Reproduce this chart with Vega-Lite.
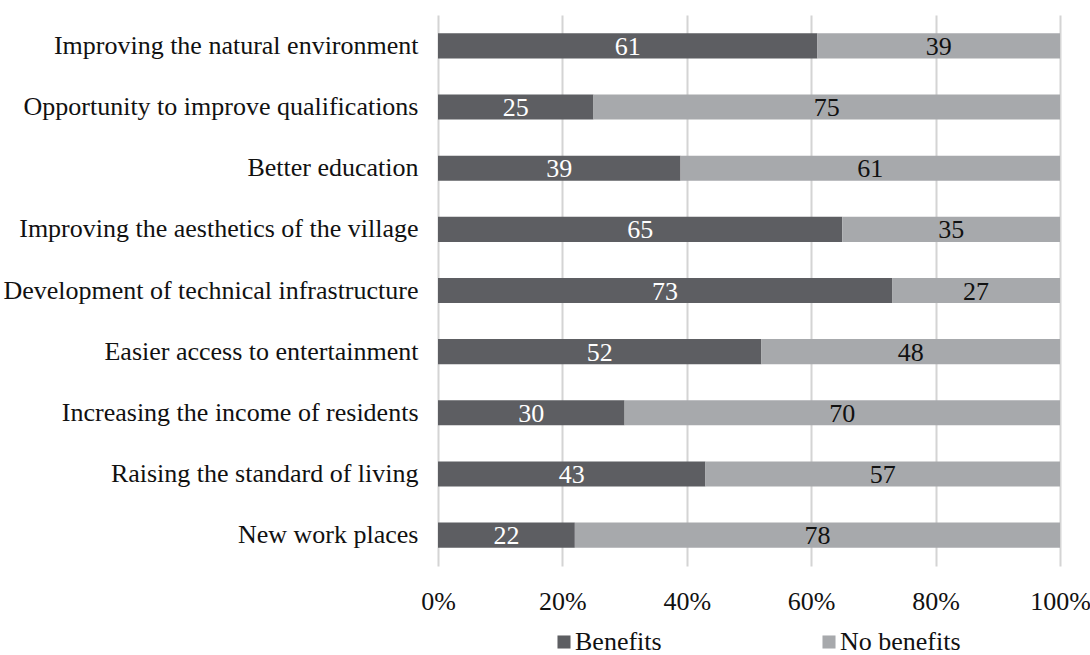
{
  "$schema": "https://vega.github.io/schema/vega-lite/v6.json",
  "autosize": {"type": "none"},
  "width": 622,
  "height": 551,
  "padding": {"left": 438, "top": 15, "right": 30, "bottom": 89},
  "background": "white",
  "config": {
    "font": "Liberation Serif",
    "axis": {"labelFont": "Liberation Serif"},
    "legend": {"labelFont": "Liberation Serif"},
    "text": {"font": "Liberation Serif"},
    "view": {"stroke": null}
  },
  "data": {
    "values": [
      {"item": "Improving the natural environment", "type": "Benefits", "value": 61, "ord": 1},
      {"item": "Improving the natural environment", "type": "No benefits", "value": 39, "ord": 2},
      {"item": "Opportunity to improve qualifications", "type": "Benefits", "value": 25, "ord": 1},
      {"item": "Opportunity to improve qualifications", "type": "No benefits", "value": 75, "ord": 2},
      {"item": "Better education", "type": "Benefits", "value": 39, "ord": 1},
      {"item": "Better education", "type": "No benefits", "value": 61, "ord": 2},
      {"item": "Improving the aesthetics of the village", "type": "Benefits", "value": 65, "ord": 1},
      {"item": "Improving the aesthetics of the village", "type": "No benefits", "value": 35, "ord": 2},
      {"item": "Development of technical infrastructure", "type": "Benefits", "value": 73, "ord": 1},
      {"item": "Development of technical infrastructure", "type": "No benefits", "value": 27, "ord": 2},
      {"item": "Easier access to entertainment", "type": "Benefits", "value": 52, "ord": 1},
      {"item": "Easier access to entertainment", "type": "No benefits", "value": 48, "ord": 2},
      {"item": "Increasing the income of residents", "type": "Benefits", "value": 30, "ord": 1},
      {"item": "Increasing the income of residents", "type": "No benefits", "value": 70, "ord": 2},
      {"item": "Raising the standard of living", "type": "Benefits", "value": 43, "ord": 1},
      {"item": "Raising the standard of living", "type": "No benefits", "value": 57, "ord": 2},
      {"item": "New work places", "type": "Benefits", "value": 22, "ord": 1},
      {"item": "New work places", "type": "No benefits", "value": 78, "ord": 2}
    ]
  },
  "encoding": {
    "y": {
      "field": "item",
      "type": "nominal",
      "sort": null,
      "title": null,
      "scale": {"paddingInner": 0.59, "paddingOuter": 0.3},
      "axis": {
        "domain": false,
        "ticks": false,
        "labelFont": "Liberation Serif",
        "labelFontSize": 26,
        "labelColor": "#111111",
        "labelPadding": 20,
        "labelLimit": 600
      }
    }
  },
  "layer": [
    {
      "mark": {"type": "bar"},
      "encoding": {
        "x": {
          "field": "value",
          "type": "quantitative",
          "stack": "zero",
          "scale": {"domain": [0, 100], "nice": false},
          "title": null,
          "axis": {
            "values": [0, 20, 40, 60, 80, 100],
            "labelExpr": "datum.value + '%'",
            "labelFlush": false,
            "domain": false,
            "ticks": false,
            "grid": true,
            "gridColor": "#d4d4d4",
            "gridWidth": 2,
            "labelFont": "Liberation Serif",
            "labelFontSize": 26,
            "labelColor": "#111111",
            "labelPadding": 22
          }
        },
        "order": {"field": "ord", "type": "quantitative"},
        "color": {
          "field": "type",
          "type": "nominal",
          "scale": {"domain": ["Benefits", "No benefits"], "range": ["#5d5e62", "#a7a9ac"]},
          "legend": {
            "title": null,
            "orient": "none",
            "legendX": 113,
            "legendY": 614,
            "direction": "horizontal",
            "symbolType": "square",
            "symbolSize": 170,
            "symbolStrokeWidth": 0,
            "labelFont": "Liberation Serif",
            "labelFontSize": 26,
            "labelColor": "#111111",
            "labelOffset": -2,
            "columnPadding": 154
          }
        }
      }
    },
    {
      "mark": {"type": "text", "font": "Liberation Serif", "fontSize": 26, "baseline": "middle", "align": "center", "dy": 1},
      "encoding": {
        "x": {"field": "value", "type": "quantitative", "stack": "zero", "bandPosition": 0.5},
        "order": {"field": "ord", "type": "quantitative"},
        "text": {"field": "value", "type": "quantitative"},
        "color": {
          "field": "type",
          "type": "nominal",
          "scale": {"domain": ["Benefits", "No benefits"], "range": ["#ffffff", "#111111"]},
          "legend": null
        }
      }
    }
  ],
  "resolve": {"scale": {"color": "independent"}}
}
